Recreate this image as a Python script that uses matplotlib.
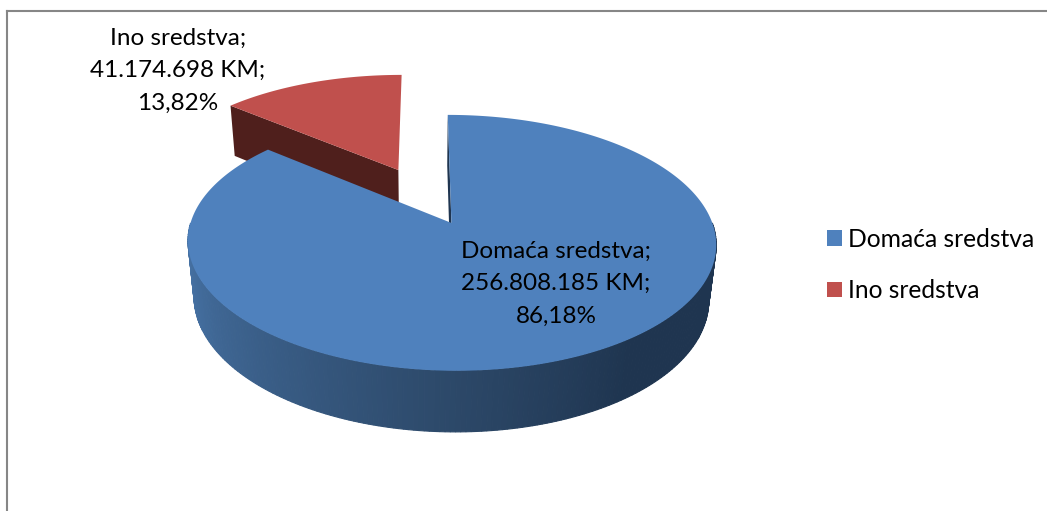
import matplotlib
matplotlib.use('Agg')
import matplotlib.pyplot as plt
from matplotlib.patches import Patch
from matplotlib.lines import Line2D
import numpy as np

labels = ['Domaća sredstva', 'Ino sredstva']
values = [256808185, 41174698]
colors = ['#4f81bd', '#c0504d']
cut_colors = ['#1f3550', '#4f1f1c']

# side wall shading of the blue slice, angle in degrees -> colour
wall_angles = [180, 270, 305, 360]
wall_colors = ['#4a78ad', '#2c4868', '#1f3550', '#1f3550']

# perspective of the pie, fitted to the picture
ox, oy = 424, 195.6
rx, ry = 252, 116.5
k = 0.15
explode = 0.25
depth = 55.8
shrink = 0.025

plt.rcParams['font.family'] = ['Lato', 'DejaVu Sans']
FONT = 17.5


def project(x, y, bottom=False):
    w = 1 + k * y + (shrink if bottom else 0)
    sx = ox + rx * x / w
    sy = oy - ry * y / w + (depth / w if bottom else 0)
    return sx, sy


def hex_rgb(c):
    return np.array(matplotlib.colors.to_rgb(c))


def wall_color(angle):
    stops = np.array([hex_rgb(c) for c in wall_colors])
    return [np.interp(angle, wall_angles, stops[:, i]) for i in range(3)]


def draw_slice(ax, start, end, color, cut_color, shaded, cuts):
    mid = np.radians((start + end) / 2)
    cx, cy = explode * np.cos(mid), explode * np.sin(mid)
    arc = np.radians(np.linspace(start, end, 300))
    ax_x = cx + np.cos(arc)
    ax_y = cy + np.sin(arc)

    # the cut faces that can be seen
    for a in cuts:
        ex, ey = cx + np.cos(np.radians(a)), cy + np.sin(np.radians(a))
        pts = [project(cx, cy), project(ex, ey), project(ex, ey, True), project(cx, cy, True)]
        ax.fill(*zip(*pts), color=cut_color, lw=0)

    # outer wall, only the part that faces the viewer
    if shaded:
        steps = np.arange(180, 360, 1.0)
        for a in steps:
            b = np.radians([a, a + 1.0])
            xs, ys = cx + np.cos(b), cy + np.sin(b)
            pts = [project(xs[0], ys[0]), project(xs[1], ys[1]),
                   project(xs[1], ys[1], True), project(xs[0], ys[0], True)]
            # edge in the same colour, otherwise the strips show seams
            ax.fill(*zip(*pts), facecolor=wall_color(a), edgecolor=wall_color(a), lw=0.8)

    top = [project(cx, cy)] + [project(x, y) for x, y in zip(ax_x, ax_y)]
    ax.fill(*zip(*top), color=color, lw=0)


fig = plt.figure(figsize=(10.47, 5.11), dpi=100)
ax = fig.add_axes([0, 0, 1, 1])
ax.set_xlim(0, 1047)
ax.set_ylim(511, 0)
ax.axis('off')

# slices go clockwise from twelve o'clock
total = sum(values)
sweep = [v / total * 360 for v in values]
blue_end = 90
blue_start = blue_end - sweep[0]
red_start = blue_start + 360
red_end = 90

draw_slice(ax, red_end, red_start, colors[1], cut_colors[1], False, [red_start])
draw_slice(ax, blue_start, blue_end, colors[0], cut_colors[0], True, [blue_end])


def label_text(i):
    amount = f'{values[i]:,}'.replace(',', '.')
    pct = f'{values[i] / total * 100:.2f}'.replace('.', ',')
    return f'{labels[i]};\n{amount} KM;\n{pct}%'


ax.text(556, 283.5, label_text(0), ha='center', va='center', fontsize=FONT, linespacing=1.68, color='black')
ax.text(178, 70.5, label_text(1), ha='center', va='center', fontsize=FONT, linespacing=1.68, color='black')

handles = [Patch(color=c, lw=0) for c in colors]
ax.legend(handles, labels, loc='center left', bbox_to_anchor=(827 / 1047, 1 - 265 / 511),
          frameon=False, fontsize=17.7, handlelength=0.62, handleheight=0.62,
          handletextpad=0.22, labelspacing=1.15, borderpad=0, borderaxespad=0)

# chart border, only top and left are in the crop
border = dict(color='#868686', lw=1.5)
ax.add_line(Line2D([7, 7], [11, 511], **border))
ax.add_line(Line2D([7, 1047], [11, 11], **border))

fig.savefig('out.png', dpi=100)
